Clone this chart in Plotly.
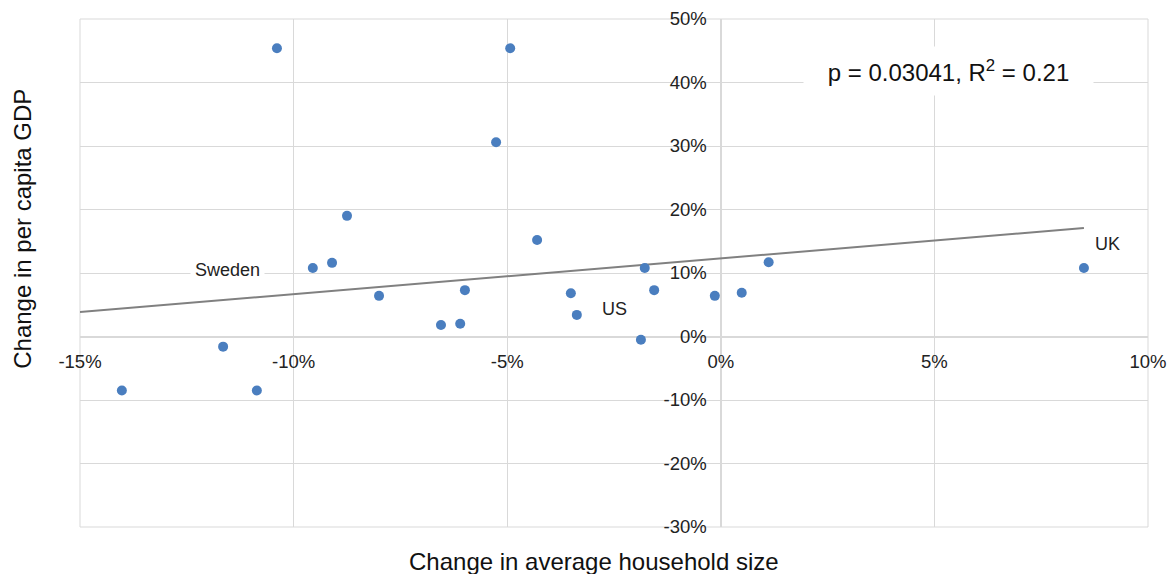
import plotly.graph_objects as go

# change in average household size (%) vs change in per capita GDP (%)
household_change = [-10.39, -4.93, -5.26, -8.75, -4.30, -9.55, -9.10, -8.00, -5.99, -6.55,
                    -6.10, -3.51, -3.37, -1.87, -1.78, -1.56, -0.14, 0.49, 1.12, 8.50,
                    -11.65, -14.02, -10.86]
gdp_change = [45.4, 45.4, 30.6, 19.0, 15.2, 10.8, 11.6, 6.4, 7.3, 1.8,
              2.0, 6.8, 3.4, -0.5, 10.8, 7.3, 6.4, 6.9, 11.7, 10.8,
              -1.6, -8.5, -8.5]

trend_x = [-15, 8.5]
trend_y = [3.86, 17.09]

labels = ["Sweden", "US", "UK"]
label_x = [-11.55, -2.5, 9.05]
label_y = [10.5, 4.3, 14.5]

x_ticks = [-15, -10, -5, 0, 5, 10]
y_ticks = [-30, -20, -10, 0, 10, 20, 30, 40, 50]

grid = "#d9d9d9"
font = "Liberation Sans, Arial, sans-serif"

fig = go.Figure()

fig.add_trace(go.Scatter(
    x=trend_x, y=trend_y, mode="lines",
    line=dict(color="#808080", width=2),
    showlegend=False, hoverinfo="skip"
))

fig.add_trace(go.Scatter(
    x=household_change, y=gdp_change, mode="markers",
    marker=dict(color="#4a7ebf", size=10),
    showlegend=False
))

for name, lx, ly in zip(labels, label_x, label_y):
    fig.add_annotation(
        x=lx, y=ly, text=name, showarrow=False,
        font=dict(size=18, color="#222"),
        bgcolor="white" if name == "Sweden" else "rgba(0,0,0,0)",
        borderpad=4
    )

fig.add_annotation(
    x=5.32, y=41.8, text="p = 0.03041, R<sup>2</sup> = 0.21", showarrow=False,
    font=dict(size=24, color="#111"), bgcolor="white",
    width=287, height=46
)

# axis titles (axes cross at zero, so titles are placed by hand)
fig.add_annotation(
    x=0, xref="paper", xshift=-57, xanchor="center", y=0.587, yref="paper",
    text="Change in per capita GDP", textangle=-90, showarrow=False,
    font=dict(size=24, color="#111")
)
fig.add_annotation(
    x=0.481, xref="paper", y=0, yref="paper", yshift=-34, yanchor="middle",
    text="Change in average household size", showarrow=False,
    font=dict(size=24, color="#111")
)

fig.add_shape(type="rect", xref="paper", yref="paper", x0=0, x1=1, y0=0, y1=1,
              line=dict(color=grid, width=1), layer="below")

# page body has an 8px margin, so the figure is a bit smaller than the window
fig.update_layout(
    width=1159, height=566,
    margin=dict(l=72, r=19, t=11, b=47),
    paper_bgcolor="white", plot_bgcolor="white",
    font=dict(family=font, size=18.5, color="#222"),
    xaxis=dict(
        range=[-15, 10], tickmode="array", tickvals=x_ticks,
        ticktext=[f"{v}%" for v in x_ticks],
        showgrid=True, gridcolor=grid, gridwidth=1,
        zeroline=True, zerolinecolor=grid, zerolinewidth=1.5,
        anchor="free", position=30 / 80, automargin=False,
        ticks="", ticklabelstandoff=12
    ),
    yaxis=dict(
        range=[-30, 50], tickmode="array", tickvals=y_ticks,
        ticktext=[f"{v}%" for v in y_ticks],
        showgrid=True, gridcolor=grid, gridwidth=1,
        zeroline=True, zerolinecolor=grid, zerolinewidth=1.5,
        anchor="free", position=15 / 25, automargin=False,
        ticks="", ticklabelstandoff=14
    )
)

fig.write_html("out.html")
